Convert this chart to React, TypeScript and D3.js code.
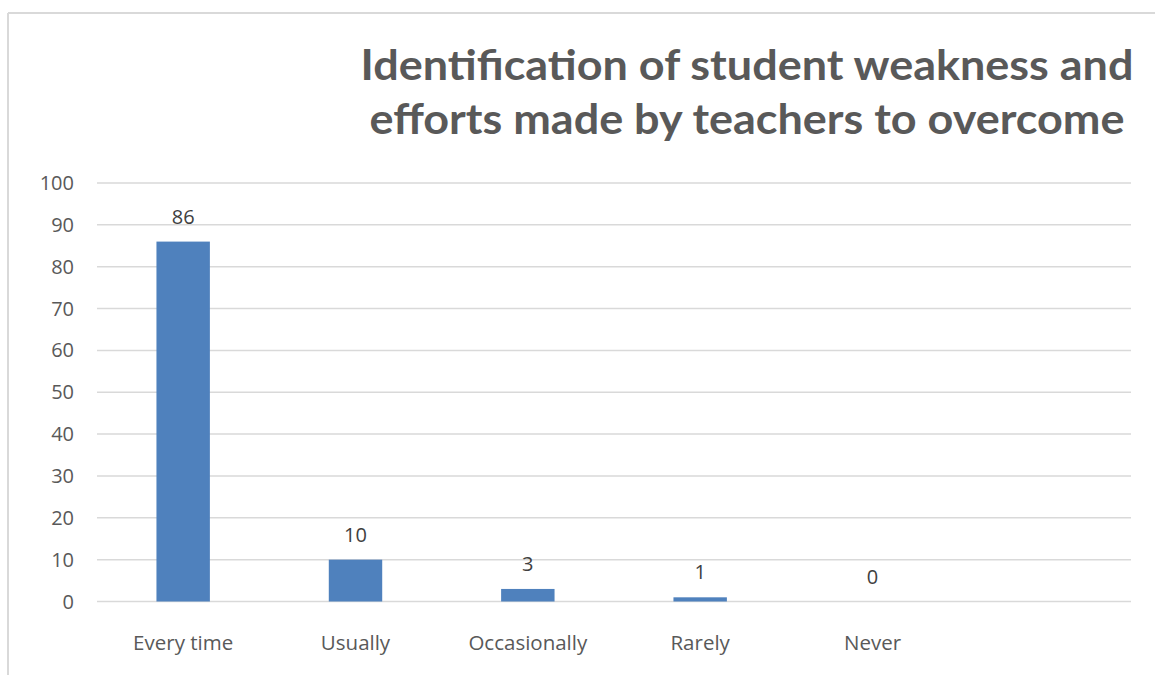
import React from "react";
import * as d3 from "d3";

const categories = ["Every time", "Usually", "Occasionally", "Rarely", "Never", ""];
const values = [86, 10, 3, 1, 0, null];
const yTicks = [0, 10, 20, 30, 40, 50, 60, 70, 80, 90, 100];
const titleLines = [
  "Identification of student weakness and",
  "efforts made by teachers to overcome",
];

const W = 1155;
const H = 675;
const FONT = "'Open Sans', 'Noto Sans', sans-serif";
const TITLE_FONT = "Lato, 'Open Sans', sans-serif";
const TEXT = "#595959";
const GRID = "#d9d9d9";
const BAR = "#4f81bd";

export default function App() {
  const x = d3
    .scaleBand<string>()
    .domain(categories.map((c, i) => String(i)))
    .range([97, 1131])
    .paddingInner(0.69)
    .paddingOuter(0.345);
  const y = d3.scaleLinear().domain([0, 100]).range([601.5, 183]);

  return (
    <svg
      width={W}
      height={H}
      style={{ position: "absolute", left: 0, top: 0, background: "#fff" }}
    >
      <rect x={0} y={0} width={W} height={H} fill="#fff" />
      {/* chart frame (extends beyond right/bottom) */}
      <line x1={8} y1={13} x2={W} y2={13} stroke={GRID} strokeWidth={2} />
      <line x1={8} y1={13} x2={8} y2={H} stroke={GRID} strokeWidth={2} />

      {/* title */}
      <text
        fill={TEXT}
        fontFamily={TITLE_FONT}
        fontWeight={700}
        fontSize={42}
        textAnchor="middle"
      >
        <tspan x={747} y={80} textLength={773} lengthAdjust="spacingAndGlyphs">
          {titleLines[0]}
        </tspan>
      </text>
      <text
        fill={TEXT}
        fontFamily={TITLE_FONT}
        fontWeight={700}
        fontSize={42}
        textAnchor="middle"
      >
        <tspan x={747} y={134} textLength={755} lengthAdjust="spacingAndGlyphs">
          {titleLines[1]}
        </tspan>
      </text>

      {/* gridlines */}
      {yTicks.map((t) => (
        <line
          key={"g" + t}
          x1={97}
          x2={1131}
          y1={y(t)}
          y2={y(t)}
          stroke={GRID}
          strokeWidth={1.5}
        />
      ))}
      {/* y labels */}
      {yTicks.map((t) => (
        <text
          key={"yl" + t}
          x={74}
          y={y(t) + 7}
          textAnchor="end"
          fill={TEXT}
          fontFamily={FONT}
          fontSize={20}
        >
          {t}
        </text>
      ))}

      {/* bars */}
      {values.map((v, i) =>
        v === null ? null : (
          <rect
            key={"b" + i}
            x={x(String(i))!}
            width={x.bandwidth()}
            y={y(v)}
            height={y(0) - y(v)}
            fill={BAR}
          />
        )
      )}
      {/* data labels */}
      {values.map((v, i) =>
        v === null ? null : (
          <text
            key={"dl" + i}
            x={x(String(i))! + x.bandwidth() / 2}
            y={y(v) - 18}
            textAnchor="middle"
            fill="#404040"
            fontFamily={FONT}
            fontSize={20}
          >
            {v}
          </text>
        )
      )}
      {/* category labels */}
      {categories.map((c, i) => (
        <text
          key={"cl" + i}
          x={x(String(i))! + x.bandwidth() / 2}
          y={650}
          textAnchor="middle"
          fill={TEXT}
          fontFamily={FONT}
          fontSize={20.5}
        >
          {c}
        </text>
      ))}
    </svg>
  );
}
